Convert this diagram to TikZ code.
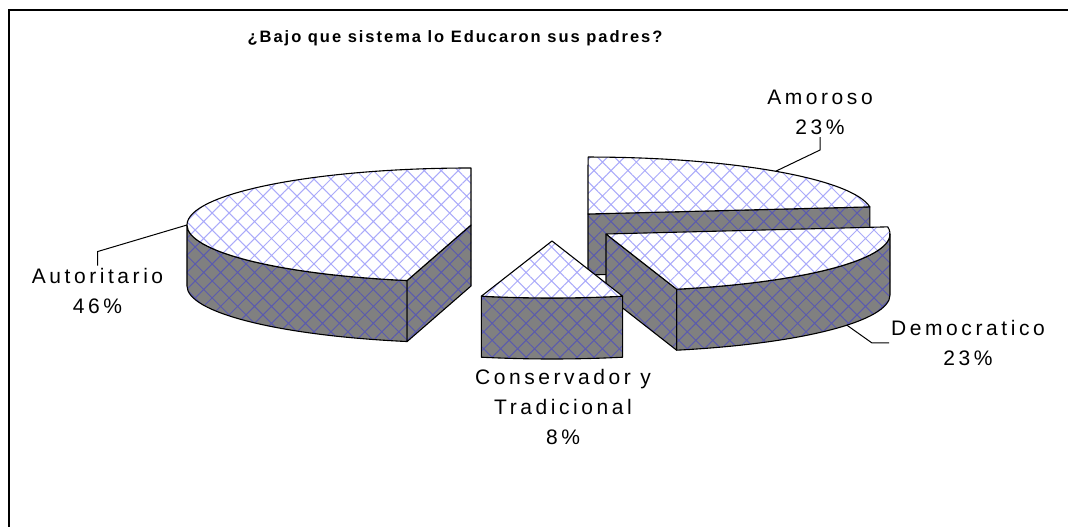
\documentclass[tikz,border=0pt]{standalone}
\usepackage{fontspec}
\setmainfont{Liberation Sans}
\newfontfamily\labfont[LetterSpace=17]{Liberation Sans}
\newfontfamily\titlefont[LetterSpace=12]{Liberation Sans}
\usetikzlibrary{patterns.meta}
\definecolor{topblue}{RGB}{170,170,250}
\definecolor{sidegray}{RGB}{128,128,128}
\definecolor{sideblue}{RGB}{90,90,175}
\tikzset{
 topface/.style={preaction={fill=white},preaction={pattern={Hatch[angle=45,distance=12pt,line width=1pt]},pattern color=topblue},draw=black,line width=1.1pt,line join=round},
 sideface/.style={preaction={fill=sidegray},preaction={pattern={Hatch[angle=45,distance=12pt,line width=1pt]},pattern color=sideblue},draw=black,line width=1.1pt,line join=round},
 lab/.style={font=\labfont\fontsize{21}{30}\selectfont, align=center, inner sep=2pt},
 leader/.style={draw=black, line width=1pt},
 ell/.style={x radius=284,y radius=57}
}
\begin{document}
\begin{tikzpicture}[x=1pt,y=1pt]
\useasboundingbox (0,0) rectangle (1068,527);
\draw[line width=1.5pt] (9,0) -- (9,517) -- (1068,517);
\node[font=\titlefont\bfseries\fontsize{16.5}{19}\selectfont] (title) at (455,489) {¿Bajo que sistema lo Educaron sus padres?};
% Amoroso
\path[sideface] (588,313) -- (869.8,320.1) -- (869.8,259.1) -- (588,252) -- cycle;
\path[topface] (588,313) -- (869.8,320.1) arc[start angle=7.2,end angle=90,ell] -- cycle;
% Democratico
\path[sideface] (676.63,237.79) arc[start angle=284.4,end angle=360,ell] -- (890,232) arc[start angle=360,end angle=284.4,ell] -- cycle;
\path[sideface] (606,293) -- (676.63,237.79) -- (676.63,176.79) -- (606,232) -- cycle;
\path[topface] (606,293) -- (676.63,237.79) arc[start angle=284.4,end angle=367.2,ell] -- cycle;
% Autoritario
\path[sideface] (187,302) arc[start angle=180,end angle=257,ell] -- (407.11,185.46) arc[start angle=257,end angle=180,ell] -- cycle;
\path[sideface] (471,302) -- (407.11,246.46) -- (407.11,185.46) -- (471,241) -- cycle;
\path[topface] (471,359) arc[start angle=90,end angle=257,ell] -- (471,302) -- cycle;
% Conservador
\path[sideface] (481.37,230.79) arc[start angle=255.6,end angle=284.4,ell] -- (622.63,169.79) arc[start angle=284.4,end angle=255.6,ell] -- cycle;
\path[topface] (552,286) -- (481.37,230.79) arc[start angle=255.6,end angle=284.4,ell] -- cycle;
% labels
\node[lab] (autLab) at (97.5,236.5) {Autoritario\\46\%};
\node[lab] (amoLab) at (820,414.5) {Amoroso\\23\%};
\node[lab] (demLab) at (968,184) {Democratico\\23\%};
\node[lab] (conLab) at (563,120) {Conservador y\\Tradicional\\8\%};
\coordinate (autPt) at (187,302);
\coordinate (amoPt) at (775.8,355.8);
\coordinate (demPt) at (846.9,201.8);
\draw[leader] (autPt) -- ([yshift=14pt]autLab.north) -- (autLab.north);
\draw[leader] (amoPt) -- ([yshift=-13pt]amoLab.south) -- (amoLab.south);
\draw[leader] (demPt) -- ([xshift=-17pt]demLab.west) -- (demLab.west);
\end{tikzpicture}
\end{document}
